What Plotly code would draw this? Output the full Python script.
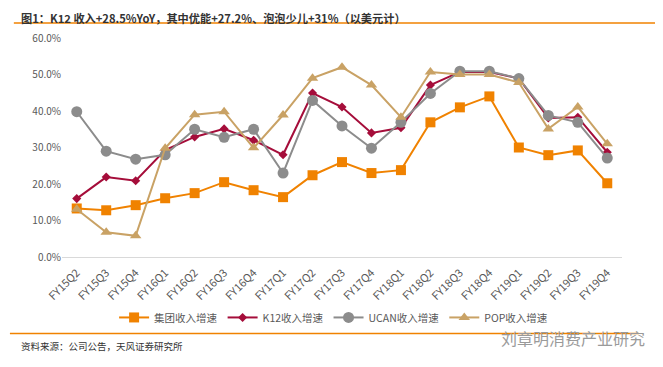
import plotly.graph_objects as go

categories = ["FY15Q2", "FY15Q3", "FY15Q4", "FY16Q1", "FY16Q2", "FY16Q3", "FY16Q4",
              "FY17Q1", "FY17Q2", "FY17Q3", "FY17Q4", "FY18Q1", "FY18Q2", "FY18Q3",
              "FY18Q4", "FY19Q1", "FY19Q2", "FY19Q3", "FY19Q4"]

group_growth = [13.3, 12.8, 14.2, 16.1, 17.5, 20.5, 18.3, 16.4, 22.4, 26.0, 23.0, 23.8,
                36.9, 41.0, 44.0, 30.0, 27.9, 29.2, 20.2]
k12_growth = [16.0, 21.9, 20.9, 29.3, 32.9, 35.1, 32.0, 28.0, 44.9, 41.1, 34.0, 35.4,
              47.1, 50.7, 50.7, 48.9, 38.1, 38.3, 28.7]
ucan_growth = [39.8, 29.0, 26.8, 28.0, 35.0, 32.8, 35.0, 23.0, 42.9, 35.9, 29.8, 36.9,
               44.8, 50.9, 50.9, 48.9, 38.8, 36.9, 27.1]
pop_growth = [13.1, 6.8, 5.8, 29.8, 39.0, 39.8, 29.9, 38.9, 49.0, 52.0, 47.1, 38.3,
              50.7, 50.0, 50.0, 47.8, 35.1, 41.1, 31.0]

series_names = ["集团收入增速", "K12收入增速", "UCAN收入增速", "POP收入增速"]
y_ticks = [0, 10, 20, 30, 40, 50, 60]

FONT = "Noto Sans CJK SC"
colors = ["#F08200", "#A50D3A", "#8C8C8C", "#C9A265"]
symbols = ["square", "diamond", "circle", "triangle-up"]
sizes = [10, 7, 11, 10]

fig = go.Figure()
for name, vals, c, s, sz in zip(series_names,
                                [group_growth, k12_growth, ucan_growth, pop_growth],
                                colors, symbols, sizes):
    fig.add_trace(go.Scatter(
        x=categories, y=vals, name=name, mode="lines+markers",
        line=dict(color=c, width=2),
        marker=dict(symbol=s, size=sz, color=c),
    ))

# page body has an 8px default margin, so the figure is 8px smaller
fig.update_layout(
    width=655, height=359,
    margin=dict(l=54, r=41, t=30, b=110, autoexpand=False),
    paper_bgcolor="white", plot_bgcolor="white",
    font=dict(family=FONT, size=10, color="#595959"),
    showlegend=True,
    legend=dict(orientation="h", x=0.485, xanchor="center", y=-0.276, yanchor="middle",
                font=dict(size=10.5, color="#595959"), itemwidth=30,
                tracegroupgap=0),
    xaxis=dict(type="category", tickangle=-45, showgrid=False, showline=True,
               linecolor="#D9D9D9", linewidth=1, ticks="", automargin=False,
               ticklabelstandoff=4,
               tickfont=dict(size=11, color="#595959"), range=[-0.5, 18.5]),
    yaxis=dict(range=[0, 60], tickvals=y_ticks, automargin=False,
               ticktext=[f"{v:.1f}%" for v in y_ticks],
               showgrid=False, zeroline=False, showline=False, ticks="",
               tickfont=dict(size=10, color="#595959")),
)

fig.add_annotation(
    text="<b>图1：K12 收入+28.5%YoY，其中优能+27.2%、泡泡少儿+31%（以美元计）</b>",
    xref="paper", yref="paper", x=-0.075, y=1.134, xanchor="left", yanchor="top",
    borderpad=0, showarrow=False, font=dict(family=FONT, size=11.2, color="#333333"))
fig.add_shape(type="line", xref="paper", yref="paper", x0=-0.086, x1=1.075,
              y0=1.069, y1=1.069, line=dict(color="#F08200", width=1.5))
fig.add_shape(type="line", xref="paper", yref="paper", x0=-0.093, x1=1.03,
              y0=-0.349, y1=-0.349, line=dict(color="#F08200", width=1.5))
fig.add_annotation(
    text="资料来源：公司公告，天风证券研究所",
    xref="paper", yref="paper", x=-0.077, y=-0.405, xanchor="left", yanchor="middle",
    showarrow=False, font=dict(family=FONT, size=9.5, color="#333333"))
fig.add_annotation(
    text="刘章明消费产业研究",
    xref="paper", yref="paper", x=1.045, y=-0.37, xanchor="right", yanchor="middle",
    showarrow=False, font=dict(family=FONT, size=16, color="#9a9a9a"))

fig.write_html("out.html")
